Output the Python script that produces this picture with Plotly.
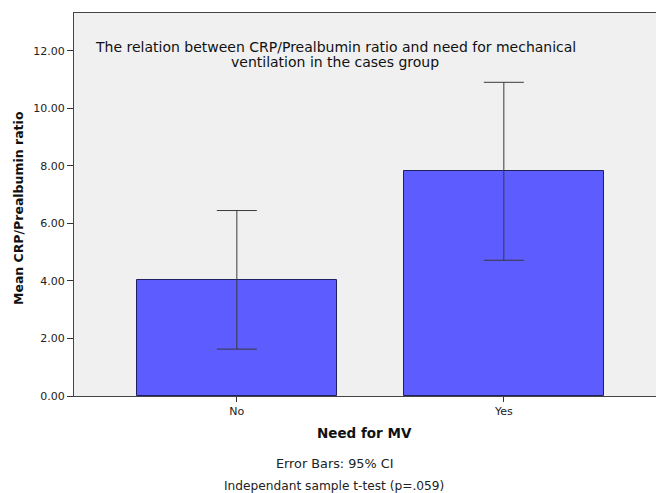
import plotly.graph_objects as go

# Group means of the CRP/Prealbumin ratio with 95% confidence limits
groups = ["No", "Yes"]
means = [4.03, 7.83]
ci_low = [1.63, 4.72]
ci_high = [6.45, 10.91]

y_ticks = [0, 2, 4, 6, 8, 10, 12]
y_tick_text = ["0.00", "2.00", "4.00", "6.00", "8.00", "10.00", "12.00"]

title_lines = [
    "The relation between CRP/Prealbumin ratio and need for mechanical",
    "ventilation in the cases group",
]
x_title = "Need for MV"
y_title = "Mean CRP/Prealbumin ratio"
footnotes = ["Error Bars: 95% CI", "Independant sample t-test (p=.059)"]

err_plus = [h - m for h, m in zip(ci_high, means)]
err_minus = [m - l for m, l in zip(means, ci_low)]

FONT = "DejaVu Sans, Verdana, sans-serif"

fig = go.Figure()
fig.add_trace(go.Bar(
    x=[0, 1],
    y=means,
    width=0.75,
    marker=dict(color="#5c5cff", line=dict(color="#202060", width=1)),
    error_y=dict(type="data", symmetric=False, array=err_plus, arrayminus=err_minus,
                 color="#3a3a3a", thickness=1, width=20),
    showlegend=False,
))

fig.update_layout(
    width=656, height=493,
    margin=dict(l=74, r=0, t=13, b=97),
    paper_bgcolor="white",
    plot_bgcolor="#f0f0f0",
    font=dict(family=FONT, color="#222222"),
    bargap=0,
    xaxis=dict(
        range=[-0.61, 1.57],
        tickvals=[0, 1], ticktext=groups,
        ticks="outside", ticklen=5, tickcolor="#333333",
        tickfont=dict(size=11, color="#222222"),
        showgrid=False, zeroline=False,
        showline=True, linecolor="#444444", linewidth=1, mirror=True,
    ),
    yaxis=dict(
        range=[0, 13.32],
        tickvals=y_ticks, ticktext=y_tick_text,
        ticks="outside", ticklen=6, tickcolor="#333333",
        tickfont=dict(size=11, color="#222222"),
        showgrid=False, zeroline=False,
        showline=True, linecolor="#444444", linewidth=1, mirror=True,
    ),
)

# Chart title drawn inside the plot area, one annotation per line
for text, ypos in zip(title_lines, [0.911, 0.872]):
    fig.add_annotation(
        text=text, xref="paper", yref="paper", x=0.449, y=ypos,
        xanchor="center", yanchor="middle", showarrow=False,
        font=dict(size=14, color="#111111", family=FONT),
    )

# Axis titles
fig.add_annotation(
    text="<b>" + x_title + "</b>", xref="paper", yref="paper", x=0.4985, y=-0.097,
    xanchor="center", yanchor="middle", showarrow=False,
    font=dict(size=13.5, color="#111111", family=FONT),
)
fig.add_annotation(
    text="<b>" + y_title + "</b>", xref="paper", yref="paper", x=-0.095, y=0.49,
    xanchor="center", yanchor="middle", showarrow=False, textangle=-90,
    font=dict(size=12.5, color="#111111", family=FONT),
)

# Notes under the x-axis title
for text, ypos, size in zip(footnotes, [-0.175, -0.235], [12.8, 12.2]):
    fig.add_annotation(
        text=text, xref="paper", yref="paper", x=0.447, y=ypos,
        xanchor="center", yanchor="middle", showarrow=False,
        font=dict(size=size, color="#222222", family=FONT),
    )

fig.write_html("out.html")
